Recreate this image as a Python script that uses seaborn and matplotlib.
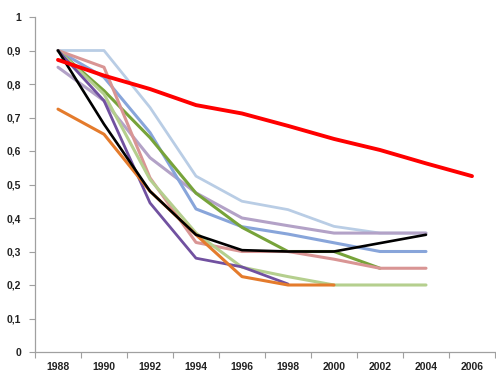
import numpy as np
import pandas as pd
import matplotlib
matplotlib.use("Agg")
import matplotlib.pyplot as plt
from matplotlib.ticker import FixedLocator, FuncFormatter
import seaborn as sns

# ── data ──────────────────────────────────────────────────────────────────────
years = [1988, 1990, 1992, 1994, 1996, 1998, 2000, 2002, 2004, 2006]

s_lightblue = [0.90, 0.90, 0.73, 0.525, 0.45, 0.425, 0.375, 0.355, 0.355, None]
s_lavender  = [0.85, 0.75, 0.58, 0.475, 0.40, 0.377, 0.355, 0.355, 0.355, None]
s_blue      = [0.90, 0.82, 0.655, 0.427, 0.374, 0.352, 0.326, 0.30, 0.30, None]
s_olive     = [0.90, 0.78, 0.64, 0.474, 0.372, 0.30, 0.30, 0.25, None, None]
s_pink      = [0.90, 0.85, 0.52, 0.327, 0.30, 0.30, 0.277, 0.25, 0.25, None]
s_lightgreen = [0.90, 0.77, 0.515, 0.355, 0.253, 0.225, 0.20, 0.20, 0.20, None]
s_purple    = [0.90, 0.75, 0.445, 0.28, 0.254, 0.203, None, None, None, None]
s_orange    = [0.725, 0.65, 0.48, 0.35, 0.225, 0.20, 0.20, None, None, None]
s_black     = [0.90, 0.68, 0.48, 0.35, 0.304, 0.30, 0.30, 0.325, 0.35, None]
s_red       = [0.872, 0.825, 0.785, 0.737, 0.712, 0.675, 0.636, 0.603, 0.563, 0.525]

series = [
    ("lightblue",  s_lightblue,  "#B9CDE5", 2.0),
    ("lavender",   s_lavender,   "#B3A2C7", 2.2),
    ("blue",       s_blue,       "#88A5DA", 2.2),
    ("olive",      s_olive,      "#77A33A", 2.2),
    ("pink",       s_pink,       "#D99594", 2.2),
    ("lightgreen", s_lightgreen, "#B5CF8E", 2.2),
    ("purple",     s_purple,     "#7151A0", 2.0),
    ("orange",     s_orange,     "#E47B2C", 2.2),
    ("black",      s_black,      "#000000", 1.9),
    ("red",        s_red,        "#FF0000", 2.8),
]

# ── plot ──────────────────────────────────────────────────────────────────────
sns.set_style("white")
plt.rcParams["font.family"] = ["Liberation Sans", "DejaVu Sans"]

fig = plt.figure(figsize=(4.96, 3.72), dpi=100)
ax = fig.add_axes([35 / 496, 20 / 372, 460 / 496, 335 / 372])

pos = np.arange(len(years))
for name, vals, color, lw in series:
    df = pd.DataFrame({"x": pos, "y": vals}).dropna()
    sns.lineplot(data=df, x="x", y="y", color=color, linewidth=lw, ax=ax,
                 solid_joinstyle="round", solid_capstyle="round")

ax.set_xlim(-0.5, len(years) - 0.5)
ax.set_ylim(0, 1)
ax.set_xlabel("")
ax.set_ylabel("")

# x axis: labels at category centres, tick marks between categories
ax.xaxis.set_major_locator(FixedLocator(pos))
ax.set_xticklabels([str(y) for y in years])
ax.xaxis.set_minor_locator(FixedLocator(np.arange(-0.5, len(years), 1.0)))
ax.tick_params(axis="x", which="major", length=0, pad=7)
ax.tick_params(axis="x", which="minor", length=4, width=0.8, color="#A0A0A0",
               direction="out", bottom=True)

ax.yaxis.set_major_locator(FixedLocator(np.round(np.arange(0, 1.01, 0.1), 1)))
ax.yaxis.set_major_formatter(FuncFormatter(
    lambda v, _: "0" if v == 0 else ("1" if v == 1 else f"{v:.1f}".replace(".", ","))))
ax.tick_params(axis="y", length=4, width=0.8, color="#A0A0A0", direction="out",
               left=True, pad=6)

for lab in ax.get_xticklabels() + ax.get_yticklabels():
    lab.set_fontsize(7.5)
    lab.set_fontweight("bold")
    lab.set_color("#222222")

for side in ["top", "right"]:
    ax.spines[side].set_visible(False)
for side in ["left", "bottom"]:
    ax.spines[side].set_color("#A0A0A0")
    ax.spines[side].set_linewidth(0.9)

fig.savefig("out.png", dpi=100, facecolor="white")
